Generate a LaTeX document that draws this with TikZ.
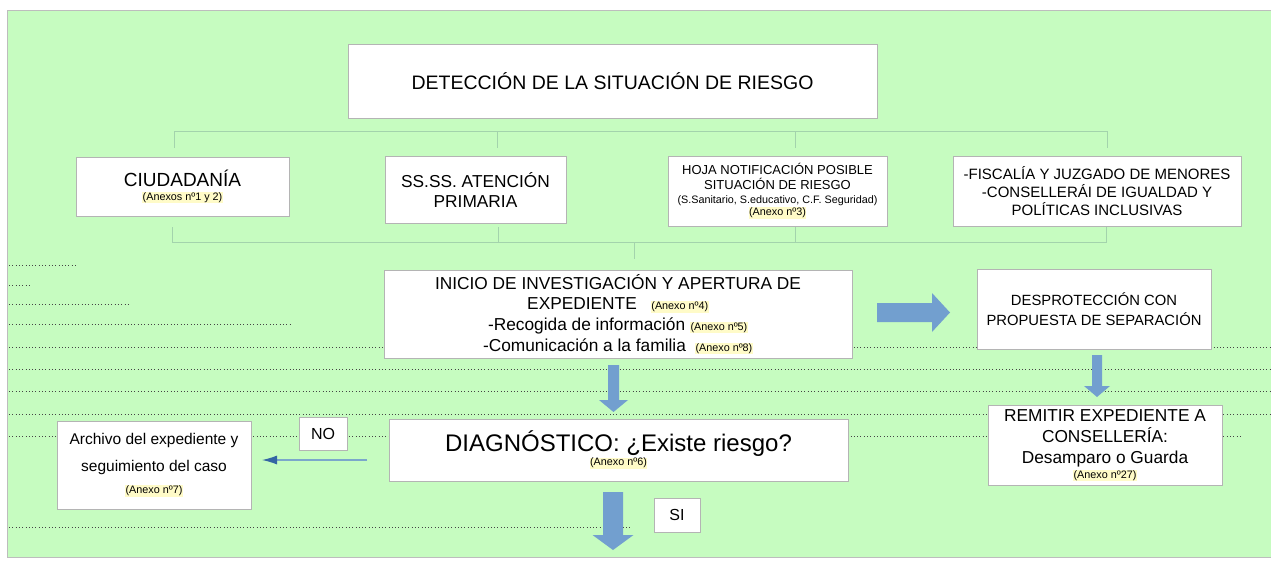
\documentclass[tikz,border=0pt]{standalone}
\usepackage{fontspec}
\setmainfont{Liberation Sans}
\usetikzlibrary{arrows.meta,calc}
\definecolor{bggreen}{HTML}{C6FCC0}
\definecolor{bgborder}{HTML}{BDBDBD}
\definecolor{boxgray}{HTML}{B4B4B4}
\definecolor{treeline}{HTML}{A3D3AC}
\definecolor{arrowblue}{HTML}{729FCF}
\definecolor{lineblue}{HTML}{7BA7CB}
\definecolor{headblue}{HTML}{3465A4}
\definecolor{hl}{HTML}{FFFBC8}
\definecolor{dotgray}{HTML}{444444}
\newcommand\fsz[2]{\fontsize{#1}{#2}\selectfont}
\newcommand\anx[1]{{\fontsize{10.8}{12}\selectfont\setlength{\fboxsep}{0.6pt}\colorbox{hl}{#1}}}
\begin{document}
\begin{tikzpicture}[x=1pt,y=-1pt,
  box/.style={draw=boxgray,fill=white,line width=0.8pt,inner sep=0pt,outer sep=0pt,align=center},
  tree/.style={draw=treeline,line width=1pt},
  dotl/.style={draw=dotgray,line width=0.9pt,dash pattern=on 0.9pt off 2.4pt},
  blk/.style={fill=arrowblue,draw=none},
  noarrow/.style={draw=lineblue,line width=1.1pt,-{Latex[length=15pt,width=9pt,color=headblue]}}]
\useasboundingbox (0,0) rectangle (1271,562);
\fill[white] (0,0) rectangle (1271,562);
\draw[fill=bggreen,draw=bgborder,line width=0.8pt] (7,10) rectangle (1274,557);

% dotted guide lines
\draw[dotl] (9,265) -- (77,265);
\draw[dotl] (9,285) -- (30,285);
\draw[dotl] (9,304) -- (129,304);
\draw[dotl] (9,324) -- (290,324);
\draw[dotl] (9,347) -- (1271,347);
\draw[dotl] (9,369) -- (1271,369);
\draw[dotl] (9,391) -- (1271,391);
\draw[dotl] (9,414) -- (1271,414);
\draw[dotl] (9,436) -- (1243,436);
\draw[dotl] (9,527) -- (632,527);

% tree connectors
\coordinate (ta1) at (174,131); \coordinate (ta2) at (497,131);
\coordinate (ta3) at (795,131); \coordinate (ta4) at (1107,131);
\coordinate (tb1) at (174,148); \coordinate (tb2) at (497,148);
\coordinate (tb3) at (795,148); \coordinate (tb4) at (1107,148);
\draw[tree] (tb1) -- (ta1) -- (ta4) -- (tb4);
\draw[tree] (ta2) -- (tb2);
\draw[tree] (ta3) -- (tb3);
\coordinate (tc1) at (172,227); \coordinate (tc2) at (498,227);
\coordinate (tc3) at (795,227); \coordinate (tc4) at (1106,227);
\coordinate (td1) at (172,242); \coordinate (td2) at (498,242);
\coordinate (td3) at (795,242); \coordinate (td4) at (1106,242);
\coordinate (tdm) at (634,242); \coordinate (tem) at (634,259);
\draw[tree] (tc1) -- (td1) -- (td4) -- (tc4);
\draw[tree] (tc2) -- (td2);
\draw[tree] (tc3) -- (td3);
\draw[tree] (tdm) -- (tem);

% boxes
\node[box,minimum width=529pt,minimum height=74pt,font=\fsz{19.5}{22}] (det) at (612.5,81) {DETECCIÓN DE LA SITUACIÓN DE RIESGO};
\node[box,minimum width=213pt,minimum height=59pt,font=\fsz{19}{23}] (ciu) at (182.5,186.5) {CIUDADANÍA\\[-9pt]\anx{(Anexos nº1 y 2)}};
\node[box,minimum width=181pt,minimum height=67pt,font=\fsz{17.3}{20}] (ss) at (475.5,189.5) {SS.SS. ATENCIÓN\\PRIMARIA};
\node[box,minimum width=219pt,minimum height=70pt,font=\fsz{13}{15}] (hoja) at (777.5,191) {HOJA NOTIFICACIÓN POSIBLE\\SITUACIÓN DE RIESGO\\[-1pt]{\fsz{10.8}{12}(S.Sanitario, S.educativo, C.F. Seguridad)}\\[-3pt]\anx{(Anexo nº3)}};
\node[box,minimum width=288pt,minimum height=70pt,font=\fsz{15}{18}] (fis) at (1097,191) {-FISCALÍA Y JUZGADO DE MENORES\\-CONSELLERÁI DE IGUALDAD Y\\POLÍTICAS INCLUSIVAS};
\node[box,minimum width=468pt,minimum height=88pt,font=\fsz{17.3}{20.7}] (ini) at (618,314) {INICIO DE INVESTIGACIÓN Y APERTURA DE\\EXPEDIENTE\hspace{14pt}\anx{(Anexo nº4)}\\-Recogida de información \anx{(Anexo nº5)}\\-Comunicación a la familia\hspace{9pt}\anx{(Anexo nº8)}};
\node[box,minimum width=234pt,minimum height=80pt,font=\fsz{14.8}{20}] (des) at (1094,309) {DESPROTECCIÓN CON\\PROPUESTA DE SEPARACIÓN};
\node[box,minimum width=234pt,minimum height=80pt,font=\fsz{17.3}{21}] (rem) at (1105,445) {REMITIR EXPEDIENTE A\\CONSELLERÍA:\\Desamparo o Guarda\\[-6pt]\anx{(Anexo nº27)}};
\node[box,minimum width=459pt,minimum height=62pt,font=\fsz{24}{28}] (diag) at (618.5,450) {DIAGNÓSTICO: ¿Existe riesgo?\\[-14pt]\anx{(Anexo nº6)}};
\node[box,minimum width=48pt,minimum height=33pt,font=\fsz{16}{18}] (no) at (323,433.5) {NO};
\node[box,minimum width=194pt,minimum height=88pt,font=\fsz{15.5}{27}] (arc) at (154,465) {Archivo del expediente y\\seguimiento del caso\\[-5pt]\anx{(Anexo nº7)}};
\node[box,minimum width=46pt,minimum height=34pt,font=\fsz{16}{18}] (si) at (677,515) {SI};

% block arrows
\fill[blk] ($(ini.east)+(25,-11)$) -- ++(55,0) -- ++(0,-10) -- ++(18,19.5) -- ++(-18,19.5) -- ++(0,-10) -- ++(-55,0) -- cycle;
\fill[blk] ($(ini.south)+(-10,7)$) -- ++(11,0) -- ++(0,35) -- ++(9,0) -- ++(-14.5,12) -- ++(-14.5,-12) -- ++(9,0) -- cycle;
\fill[blk] ($(des.south)+(-2,6)$) -- ++(10,0) -- ++(0,31) -- ++(8,0) -- ++(-13,11) -- ++(-13,-11) -- ++(8,0) -- cycle;
\fill[blk] ($(diag.south)+(-15.5,11)$) -- ++(20,0) -- ++(0,43) -- ++(10.5,0) -- ++(-20.5,15) -- ++(-20.5,-15) -- ++(10.5,0) -- cycle;

% NO arrow
\draw[noarrow] ($(diag.west)+(-22,10)$) -- ($(arc.east)+(11,-5)$);
\end{tikzpicture}
\end{document}
